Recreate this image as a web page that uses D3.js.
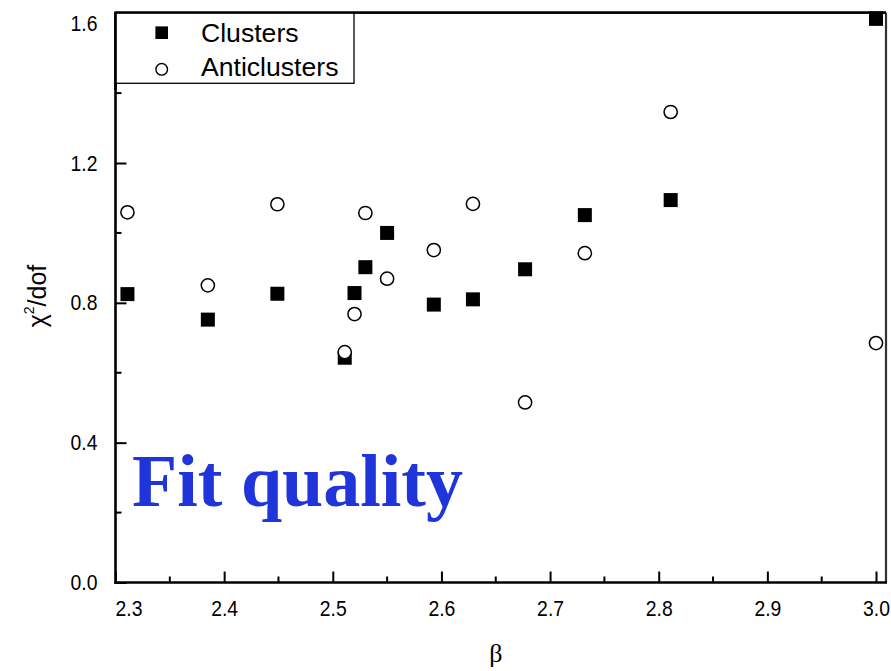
<!DOCTYPE html>
<html>
<head>
<meta charset="utf-8">
<script src="https://cdn.jsdelivr.net/npm/d3@7"></script>
<style>
  html, body { margin: 0; padding: 0; background: #fff; }
  svg { display: block; }
</style>
</head>
<body>
<svg id="chart" width="891" height="671"></svg>
<script>
// ---- data ----
const betaValues = [2.311, 2.385, 2.449, 2.511, 2.520, 2.530, 2.550, 2.593, 2.629, 2.677, 2.732, 2.811, 3.000];
const clusters = [0.825, 0.752, 0.826, 0.643, 0.828, 0.902, 1.000, 0.795, 0.810, 0.896, 1.051, 1.094, 1.613];
const anticlusters = [1.059, 0.850, 1.082, 0.659, 0.768, 1.057, 0.869, 0.951, 1.083, 0.515, 0.942, 1.346, 0.685];
const xMajorTicks = [2.3, 2.4, 2.5, 2.6, 2.7, 2.8, 2.9, 3.0];
const xMinorTicks = [2.35, 2.45, 2.55, 2.65, 2.75, 2.85, 2.95];
const yMajorTicks = [0.0, 0.4, 0.8, 1.2, 1.6];
const yMinorTicks = [0.2, 0.6, 1.0, 1.4];
const seriesNames = ["Clusters", "Anticlusters"];

const svg = d3.select("#chart");
const L = 115.5, R = 886, T = 12.7, B = 582.5;
const SX = 0.88; // horizontal condensation of tick labels

const x = d3.scaleLinear().domain([2.3, 3.0092]).range([L, R]);
const y = d3.scaleLinear().domain([0, 1.63]).range([B, T]);

// frame (top & right)
svg.append("line").attr("x1", L).attr("x2", R).attr("y1", T).attr("y2", T)
  .attr("stroke", "#000").attr("stroke-width", 2.2);
svg.append("line").attr("x1", R).attr("x2", R).attr("y1", T).attr("y2", B)
  .attr("stroke", "#333").attr("stroke-width", 2.2);

// bottom axis
const xAxis = d3.axisBottom(x).tickValues(xMajorTicks).tickSize(-11)
  .tickFormat(d3.format(".1f")).tickPadding(0);
const gx = svg.append("g").attr("transform", `translate(0,${B})`).call(xAxis);
gx.select(".domain").remove();
gx.selectAll(".tick line").attr("stroke", "#000").attr("stroke-width", 2);
gx.selectAll(".tick text")
  .attr("font-family", "Liberation Sans, Arial, sans-serif")
  .attr("font-size", 22).attr("fill", "#000")
  .attr("dy", null).attr("y", 34)
  .attr("transform", d => d === 2.3 ? `translate(13,0) scale(${SX},1)` : `scale(${SX},1)`);
svg.append("g").selectAll("line").data(xMinorTicks).join("line")
  .attr("x1", d => x(d)).attr("x2", d => x(d))
  .attr("y1", B).attr("y2", B - 6)
  .attr("stroke", "#000").attr("stroke-width", 2);

// left axis
const yAxis = d3.axisLeft(y).tickValues(yMajorTicks).tickSize(-11)
  .tickFormat(d3.format(".1f")).tickPadding(18);
const gy = svg.append("g").attr("transform", `translate(${L},0)`).call(yAxis);
gy.select(".domain").remove();
gy.selectAll(".tick line").attr("stroke", "#000").attr("stroke-width", 2);
gy.selectAll(".tick text")
  .attr("font-family", "Liberation Sans, Arial, sans-serif")
  .attr("font-size", 22).attr("fill", "#000")
  .attr("x", -18 / SX)
  .attr("transform", `scale(${SX},1)`);
svg.append("g").selectAll("line").data(yMinorTicks).join("line")
  .attr("x1", L).attr("x2", L + 6)
  .attr("y1", d => y(d)).attr("y2", d => y(d))
  .attr("stroke", "#000").attr("stroke-width", 2);

// axis lines (left & bottom)
svg.append("line").attr("x1", L).attr("x2", L).attr("y1", T - 1).attr("y2", B + 1.2)
  .attr("stroke", "#000").attr("stroke-width", 2.6);
svg.append("line").attr("x1", L - 1.2).attr("x2", R + 1).attr("y1", B).attr("y2", B)
  .attr("stroke", "#000").attr("stroke-width", 2.6);

// axis titles
svg.append("text")
  .attr("x", x(2.65)).attr("y", 662)
  .attr("text-anchor", "middle")
  .attr("font-family", "Liberation Serif, Times New Roman, serif")
  .attr("font-size", 26).attr("fill", "#000")
  .text("β");

const yt = svg.append("text")
  .attr("transform", "translate(46,296) rotate(-90)")
  .attr("text-anchor", "middle")
  .attr("font-family", "Liberation Sans, Arial, sans-serif")
  .attr("font-size", 25).attr("fill", "#000");
yt.append("tspan").text("χ");
yt.append("tspan").attr("font-size", 14).attr("dy", -12).text("2");
yt.append("tspan").attr("dy", 12).text("/dof");

// big annotation
svg.append("text")
  .attr("x", 132).attr("y", 506)
  .attr("font-family", "Liberation Serif, Times New Roman, serif")
  .attr("font-weight", "bold")
  .attr("font-size", 74).attr("fill", "#1f35d9")
  .text("Fit quality");

// data points
const pts = betaValues.map((b, i) => ({ b, c: clusters[i], a: anticlusters[i] }));
const sq = 14;
svg.append("g").selectAll("rect").data(pts).join("rect")
  .attr("x", d => x(d.b) - sq / 2).attr("y", d => y(d.c) - sq / 2)
  .attr("width", sq).attr("height", sq).attr("fill", "#000");
svg.append("g").selectAll("circle").data(pts).join("circle")
  .attr("cx", d => x(d.b)).attr("cy", d => y(d.a)).attr("r", 6.6)
  .attr("fill", "#fff").attr("stroke", "#000").attr("stroke-width", 1.5);

// legend
const lg = svg.append("g");
lg.append("rect").attr("x", L).attr("y", T).attr("width", 354 - L).attr("height", 83.3 - T)
  .attr("fill", "#fff").attr("stroke", "#000").attr("stroke-width", 1.3);
lg.append("rect").attr("x", 161.7 - 6.3).attr("y", 32.7 - 6.3).attr("width", 12.6).attr("height", 12.6)
  .attr("fill", "#000");
lg.append("circle").attr("cx", 161.7).attr("cy", 69.3).attr("r", 5.8)
  .attr("fill", "#fff").attr("stroke", "#000").attr("stroke-width", 1.4);
lg.selectAll("text").data(seriesNames).join("text")
  .attr("x", 201).attr("y", (d, i) => i === 0 ? 42 : 76)
  .attr("font-family", "Liberation Sans, Arial, sans-serif")
  .attr("font-size", 26.6).attr("fill", "#000")
  .text(d => d);
// redraw top frame line over legend
svg.append("line").attr("x1", L).attr("x2", R).attr("y1", T).attr("y2", T)
  .attr("stroke", "#000").attr("stroke-width", 2.2);
svg.append("line").attr("x1", L).attr("x2", L).attr("y1", T - 1).attr("y2", 90)
  .attr("stroke", "#000").attr("stroke-width", 2.6);
// top-right point sits over frame
svg.append("g").selectAll("rect").data(pts.filter(d => d.c > 1.5)).join("rect")
  .attr("x", d => x(d.b) - sq / 2).attr("y", d => y(d.c) - sq / 2)
  .attr("width", sq).attr("height", sq).attr("fill", "#000");
</script>
</body>
</html>
